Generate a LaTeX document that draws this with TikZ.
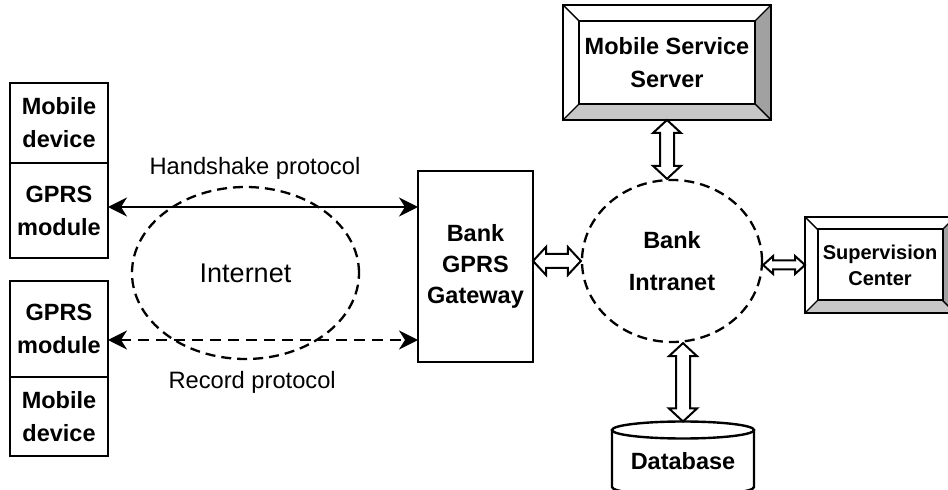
\documentclass[tikz,border=0pt]{standalone}
\usepackage{fontspec}
\setmainfont{Liberation Sans}
\usetikzlibrary{
  positioning,
  arrows.meta,
  calc,
  shapes.geometric
}

% raised frame drawn inside a node
\newcommand{\bevelframe}[1]{%
  \coordinate (sw) at (path picture bounding box.south west);
  \coordinate (se) at (path picture bounding box.south east);
  \coordinate (ne) at (path picture bounding box.north east);
  \coordinate (nw) at (path picture bounding box.north west);
  \coordinate (isw) at ([shift={(#1,#1)}]sw);
  \coordinate (ise) at ([shift={(-#1,#1)}]se);
  \coordinate (ine) at ([shift={(-#1,-#1)}]ne);
  \coordinate (inw) at ([shift={(#1,-#1)}]nw);
  \fill[black!22] (sw) -- (se) -- (ise) -- (isw) -- cycle;
  \fill[black!37] (se) -- (ne) -- (ine) -- (ise) -- cycle;
  \draw[line width=2pt] (isw) rectangle (ine);
  \draw[line width=1.4pt] (sw) -- (isw) (se) -- (ise) (ne) -- (ine) (nw) -- (inw);
}

% hollow two-way block arrow: start, end, head length, head half width, shaft half width
\newcommand{\twowayarrow}[5]{%
  \draw[line width=2pt, fill=white, line join=miter]
    (#1) -- ($($(#1)!#3!(#2)$)!#4!90:(#2)$) -- ($($(#1)!#3!(#2)$)!#5!90:(#2)$)
    -- ($($(#2)!#3!(#1)$)!#5!-90:(#1)$) -- ($($(#2)!#3!(#1)$)!#4!-90:(#1)$)
    -- (#2) -- ($($(#2)!#3!(#1)$)!#4!90:(#1)$) -- ($($(#2)!#3!(#1)$)!#5!90:(#1)$)
    -- ($($(#1)!#3!(#2)$)!#5!-90:(#2)$) -- ($($(#1)!#3!(#2)$)!#4!-90:(#2)$) -- cycle;
}

\begin{document}
\begin{tikzpicture}[
    x=1pt, y=1pt,
    font=\fontsize{23.7}{33}\selectfont,
    box/.style={
      draw,
      line width=2.6pt,
      align=center,
      font=\fontsize{23.5}{33}\selectfont\bfseries,
      minimum width=98pt,
      inner sep=0pt,
      outer sep=0pt
    },
    cloud/.style={
      ellipse,
      draw,
      line width=2.3pt,
      dash pattern=on 10pt off 6pt,
      align=center,
      inner sep=0pt
    },
    bevel/.style={
      draw,
      line width=2.4pt,
      fill=white,
      align=center,
      inner sep=0pt,
      outer sep=0pt,
      font=\fontsize{23.5}{33}\selectfont\bfseries,
      path picture={\bevelframe{#1}}
    },
    link/.style={
      line width=2pt,
      {Stealth[length=19pt,width=19pt,inset=6pt]}-{Stealth[length=19pt,width=19pt,inset=6pt]}
    }
  ]
  \useasboundingbox (0,0) rectangle (948,490);

  % Mobile clients
  \node[box, minimum height=80pt] (md1) at (59,367) {Mobile\\device};
  \node[box, minimum height=95pt, below=0pt of md1] (gm1) {GPRS\\module};
  \node[box, minimum height=96pt] (gm2) at (59,161) {GPRS\\module};
  \node[box, minimum height=79pt, below=0pt of gm2] (md2) {Mobile\\device};

  % Internet
  \node[cloud, minimum width=227pt, minimum height=172pt,
        font=\fontsize{27}{33}\selectfont] (inet) at (245.5,217) {Internet};

  % Gateway
  \node[box, minimum width=115pt, minimum height=191pt,
        font=\fontsize{23.5}{31}\selectfont\bfseries] (gw) at (475.5,223.5) {Bank\\GPRS\\Gateway};

  % Protocols
  \draw[link] ([yshift=3.5pt]gm1.east) -- ([yshift=3.5pt]gm1.east -| gw.west)
    node[pos=0.474, above=23pt] (hs) {Handshake protocol};
  \draw[link, dash pattern=on 11pt off 7pt] ([yshift=-11pt]gm2.east) -- ([yshift=-11pt]gm2.east -| gw.west)
    node[pos=0.465, below=27pt] (rec) {Record protocol};

  % Bank side
  \node[cloud, minimum width=180pt, minimum height=162pt,
        font=\fontsize{23.5}{42}\selectfont\bfseries] (intranet) at (672,229) {Bank\\Intranet};
  \node[bevel=16pt, minimum width=208pt, minimum height=115pt] (server) at (667,427.5) {Mobile Service\\Server};
  \node[bevel=12.5pt, minimum width=150pt, minimum height=96pt,
        font=\fontsize{20}{26}\selectfont\bfseries] (sup) at (880,225) {Supervision\\Center};

  % Database
  \draw[line width=2.4pt, fill=white] (612,60) -- (612,3)
    arc[start angle=180, end angle=360, x radius=71pt, y radius=8.5pt] -- (754,60);
  \draw[line width=2.4pt] (683,60) ellipse[x radius=71pt, y radius=8.5pt];
  \coordinate (dbtop) at (683,68.5);
  \node[font=\fontsize{23.5}{33}\selectfont\bfseries, inner sep=0pt] (db) at (683,29) {Database};

  % Block arrows
  \coordinate (gwr) at (gw.east |- intranet.west);
  \twowayarrow{gwr}{intranet.west}{13pt}{14pt}{7pt}
  \coordinate (inn) at (server.south |- intranet.north);
  \twowayarrow{server.south}{inn}{13pt}{14pt}{7pt}
  \coordinate (ine) at (sup.west -| intranet.east);
  \twowayarrow{ine}{sup.west}{10pt}{9pt}{4.5pt}
  \coordinate (ins) at (dbtop |- intranet.south);
  \twowayarrow{ins}{dbtop}{13pt}{14pt}{7pt}

\end{tikzpicture}
\end{document}
